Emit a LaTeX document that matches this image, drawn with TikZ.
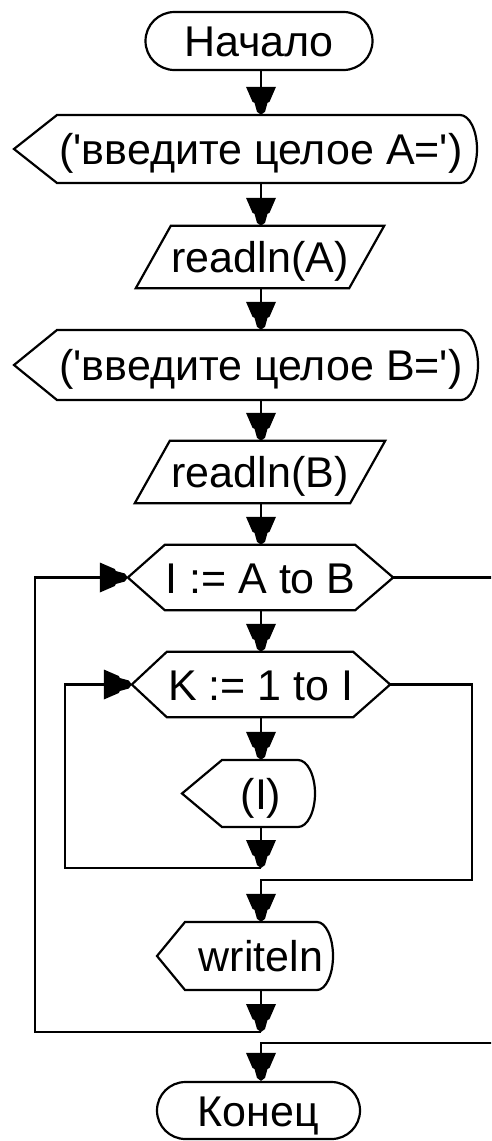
\documentclass[tikz,border=0pt]{standalone}
\usepackage{fontspec}
\setmainfont{Liberation Sans}
\usetikzlibrary{arrows.meta,shapes.misc,calc}
\pgfdeclarearrow{
  name = MyShield,
  setup code = {
    \pgfarrowssettipend{0pt}
    \pgfarrowssetlineend{-14pt}
    \pgfarrowssetbackend{-28pt}
    \pgfarrowssetvisualbackend{-28pt}
    \pgfarrowshullpoint{0pt}{0pt}
    \pgfarrowshullpoint{-28pt}{15pt}
    \pgfarrowshullpoint{-28pt}{-15pt}
  },
  drawing code = {
    \pgfpathmoveto{\pgfqpoint{0pt}{0pt}}
    \pgfpathlineto{\pgfqpoint{-3pt}{4pt}}
    \pgfpathlineto{\pgfqpoint{-12pt}{6.5pt}}
    \pgfpathlineto{\pgfqpoint{-13pt}{8.5pt}}
    \pgfpathlineto{\pgfqpoint{-28pt}{15pt}}
    \pgfpathlineto{\pgfqpoint{-28pt}{-15pt}}
    \pgfpathlineto{\pgfqpoint{-13pt}{-8.5pt}}
    \pgfpathlineto{\pgfqpoint{-12pt}{-6.5pt}}
    \pgfpathlineto{\pgfqpoint{-3pt}{-4pt}}
    \pgfpathclose
    \pgfusepathqfill
  }
}
\tikzset{
  shp/.style={draw, line width=2.2pt, line join=miter},
  txt/.style={inner sep=0pt, font=\fontsize{43pt}{50pt}\selectfont, text height=31pt, text depth=0pt},
  term/.style={txt, rounded rectangle, draw, line width=2.2pt},
  box/.style={txt, rectangle},
  arr/.style={line width=2.2pt, -MyShield},
  ln/.style={line width=2.2pt}
}
% display (output) outline: name, left offset, slant, right offset, arc x radius, half height
\newcommand\dispshape[6]{%
  \draw[shp] ($(#1.center)+(-#2pt,0pt)$) -- ($(#1.center)+(-#2pt+#3pt,#6pt)$)
    -- ($(#1.center)+(#4pt-#5pt,#6pt)$)
    arc[start angle=90,end angle=-90,x radius=#5pt,y radius=#6pt]
    -- ($(#1.center)+(-#2pt+#3pt,-#6pt)$) -- cycle;}
% hexagon outline: name, left slant, right slant
\newcommand\hexshape[3]{%
  \draw[shp] (#1.west) -- ([xshift=#2pt]#1.north west) -- ([xshift=-#3pt]#1.north east)
    -- (#1.east) -- ([xshift=-#3pt]#1.south east) -- ([xshift=#2pt]#1.south west) -- cycle;}
% parallelogram outline: name, slant
\newcommand\parashape[2]{%
  \draw[shp] ([xshift=#2pt]#1.north west) -- (#1.north east)
    -- ([xshift=-#2pt]#1.south east) -- (#1.south west) -- cycle;}
\begin{document}
\begin{tikzpicture}[x=1pt,y=-1pt]
\useasboundingbox (0,0) rectangle (491,1141);
\clip (0,0) rectangle (491,1141);
\fill[white] (0,0) rectangle (491,1141);
\coordinate (axis) at (261,0);

\node[term, minimum width=227pt, minimum height=58pt] (start) at (259,41) {Начало};

\node[box, minimum height=68pt] (out1) at (261,149) {(\textquotesingle{}введите целое A=\textquotesingle)};
\dispshape{out1}{247}{43}{216}{17}{34}

\node[box, minimum width=248pt, minimum height=62pt] (readA) at (260,257) {readln(A)};
\parashape{readA}{35}

\node[box, minimum height=70pt] (out2) at (261,365) {(\textquotesingle{}введите целое B=\textquotesingle)};
\dispshape{out2}{247}{43}{217}{17}{35}

\node[box, minimum width=250pt, minimum height=62pt] (readB) at (260,472) {readln(B)};
\parashape{readB}{35}

\node[box, minimum width=265pt, minimum height=65pt] (loopI) at (260.5,577.5) {I := A to B};
\hexshape{loopI}{37}{38}

\node[box, minimum width=258pt, minimum height=65pt] (loopK) at (261,684.5) {K := 1 to I};
\hexshape{loopK}{35}{37}

\node[box, minimum height=67pt] (outI) at (261,793.5) {(I)};
\dispshape{outI}{79}{40}{54}{17}{33.5}

\node[box, minimum height=68pt] (wrl) at (261,956) {writeln};
\dispshape{wrl}{104}{28}{72}{16}{34}

\node[term, minimum width=203pt, minimum height=57pt] (endn) at (258.5,1110.5) {Конец};

% straight connectors
\draw[arr] (axis |- start.south) -- (axis |- out1.north);
\draw[arr] (axis |- out1.south) -- (axis |- readA.north);
\draw[arr] (axis |- readA.south) -- (axis |- out2.north);
\draw[arr] (axis |- out2.south) -- (axis |- readB.north);
\draw[arr] (axis |- readB.south) -- (axis |- loopI.north);
\draw[arr] (axis |- loopI.south) -- (axis |- loopK.north);
\draw[arr] (axis |- loopK.south) -- (axis |- outI.north);

% inner loop
\coordinate (j1) at (261,868);
\coordinate (kl) at (65,868);
\coordinate (kr) at (472,880);
\draw[arr] (axis |- outI.south) -- (j1);
\draw[arr] (j1) -- (kl) |- (loopK.west);
\draw[arr] (loopK.east) -| (kr) -- (axis |- kr) -- (axis |- wrl.north);

% outer loop
\coordinate (j2) at (261,1032);
\coordinate (il) at (35,1032);
\coordinate (ir) at (505,1043);
\draw[arr] (axis |- wrl.south) -- (j2);
\draw[arr] (j2) -- (il) |- (loopI.west);
\draw[arr] (loopI.east) -| (ir) -- (axis |- ir) -- (axis |- endn.north);
\end{tikzpicture}
\end{document}
